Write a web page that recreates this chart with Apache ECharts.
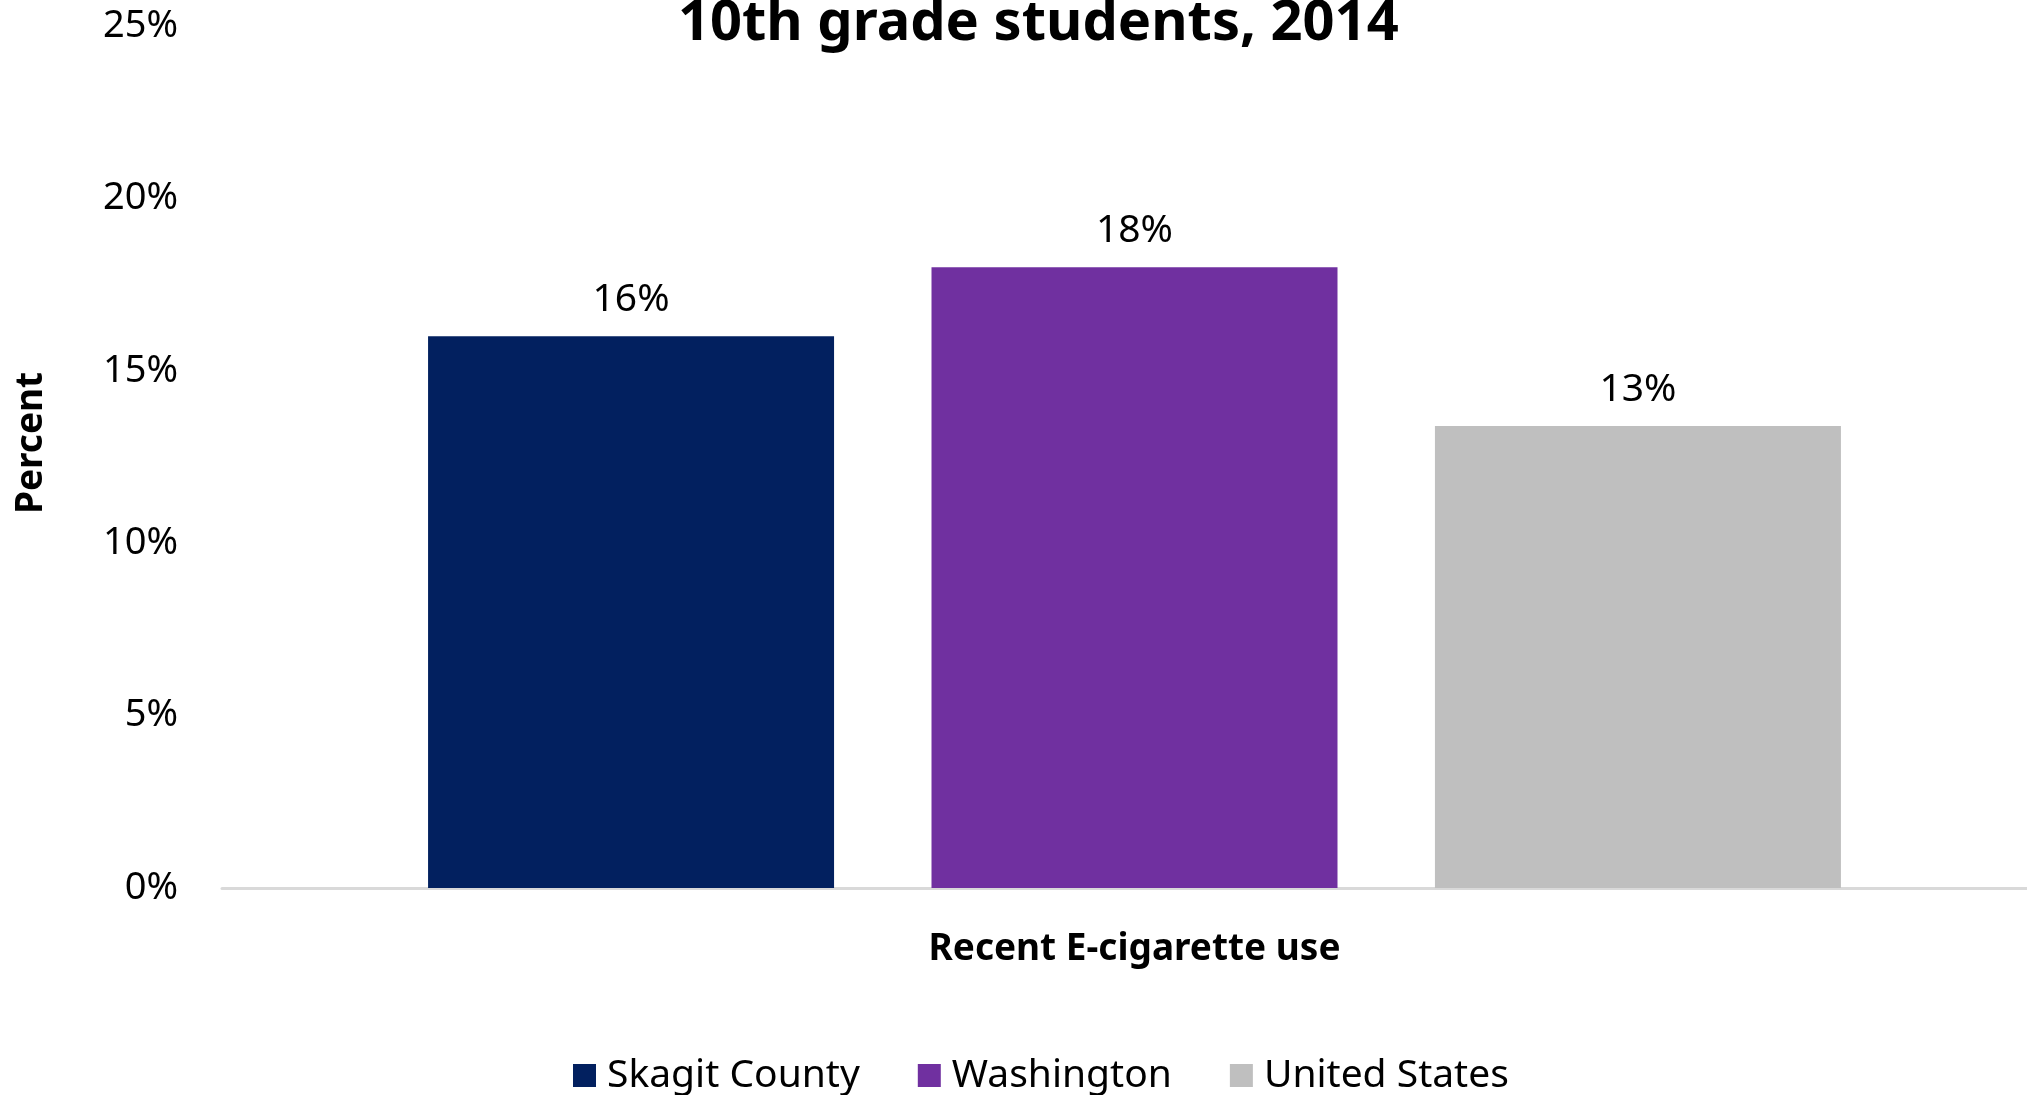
<!DOCTYPE html>
<html>
<head>
<meta charset="utf-8">
<script src="https://cdn.jsdelivr.net/npm/echarts@6/dist/echarts.min.js"></script>
<style>
html,body{margin:0;padding:0;background:#fff;}
#chart{width:2027px;height:1095px;}
</style>
</head>
<body>
<div id="chart"></div>
<script>
const categories = ['Recent E-cigarette use'];
const seriesNames = ['Skagit County', 'Washington', 'United States'];
const skagitValues = [16];
const washingtonValues = [18];
const usValues = [13.4];
const yTicks = [0, 5, 10, 15, 20, 25];
const colors = ['#02205F', '#7030A0', '#BFBFBF'];

const FONT = 'Noto Sans';
const chart = echarts.init(document.getElementById('chart'), null, {renderer: 'canvas'});

const labelOpt = {
  show: true,
  position: 'top',
  distance: 17,
  color: '#000',
  fontFamily: FONT,
  fontSize: 39,
  formatter: p => Math.round(p.value) + '%'
};

const seriesData = [skagitValues, washingtonValues, usValues];

chart.setOption({
  backgroundColor: '#fff',
  animation: false,
  title: {
    text: '10th grade students, 2014',
    left: 673,
    top: -9,
    textStyle: {fontFamily: FONT, fontWeight: 'bold', fontSize: 56, color: '#000'}
  },
  graphic: [{
    type: 'text',
    x: 31,
    y: 443,
    rotation: Math.PI / 2,
    style: {
      text: 'Percent',
      fontFamily: FONT,
      fontWeight: 'bold',
      fontSize: 37,
      fill: '#000',
      align: 'center',
      verticalAlign: 'middle'
    }
  }],
  legend: {
    data: seriesNames,
    left: 573,
    top: 1056,
    icon: 'rect',
    itemWidth: 23,
    itemHeight: 23,
    itemGap: 58,
    padding: 0,
    textStyle: {fontFamily: FONT, fontSize: 39, color: '#000', padding: [0, 0, 0, 6]}
  },
  grid: [
    {left: 242, right: 0, top: 26, bottom: 207, containLabel: false},
    {left: 222, right: 0, top: 26, bottom: 207, containLabel: false}
  ],
  xAxis: [{
    gridIndex: 0,
    type: 'category',
    data: categories,
    name: categories[0],
    nameLocation: 'middle',
    nameGap: 43,
    nameTextStyle: {fontFamily: FONT, fontWeight: 'bold', fontSize: 37, color: '#000'},
    axisLine: {show: false},
    axisTick: {show: false},
    axisLabel: {show: false}
  }, {
    gridIndex: 1,
    type: 'category',
    data: categories,
    axisLine: {show: true, lineStyle: {color: '#D9D9D9', width: 3}},
    axisTick: {show: false},
    axisLabel: {show: false},
    splitLine: {show: false}
  }],
  yAxis: [{
    gridIndex: 0,
    type: 'value',
    min: yTicks[0],
    max: yTicks[yTicks.length - 1],
    interval: 5,
    axisLine: {show: false},
    axisTick: {show: false},
    splitLine: {show: false},
    axisLabel: {
      fontFamily: FONT, fontSize: 38, color: '#000', margin: 64,
      formatter: v => v + '%'
    }
  }, {
    gridIndex: 1,
    type: 'value',
    min: yTicks[0],
    max: yTicks[yTicks.length - 1],
    interval: 5,
    show: false
  }],
  series: seriesNames.map((n, i) => ({
    name: n,
    type: 'bar',
    data: seriesData[i],
    barWidth: 406,
    barGap: '24%',
    itemStyle: {color: colors[i]},
    label: labelOpt,
    z: 3
  }))
});
</script>
</body>
</html>
